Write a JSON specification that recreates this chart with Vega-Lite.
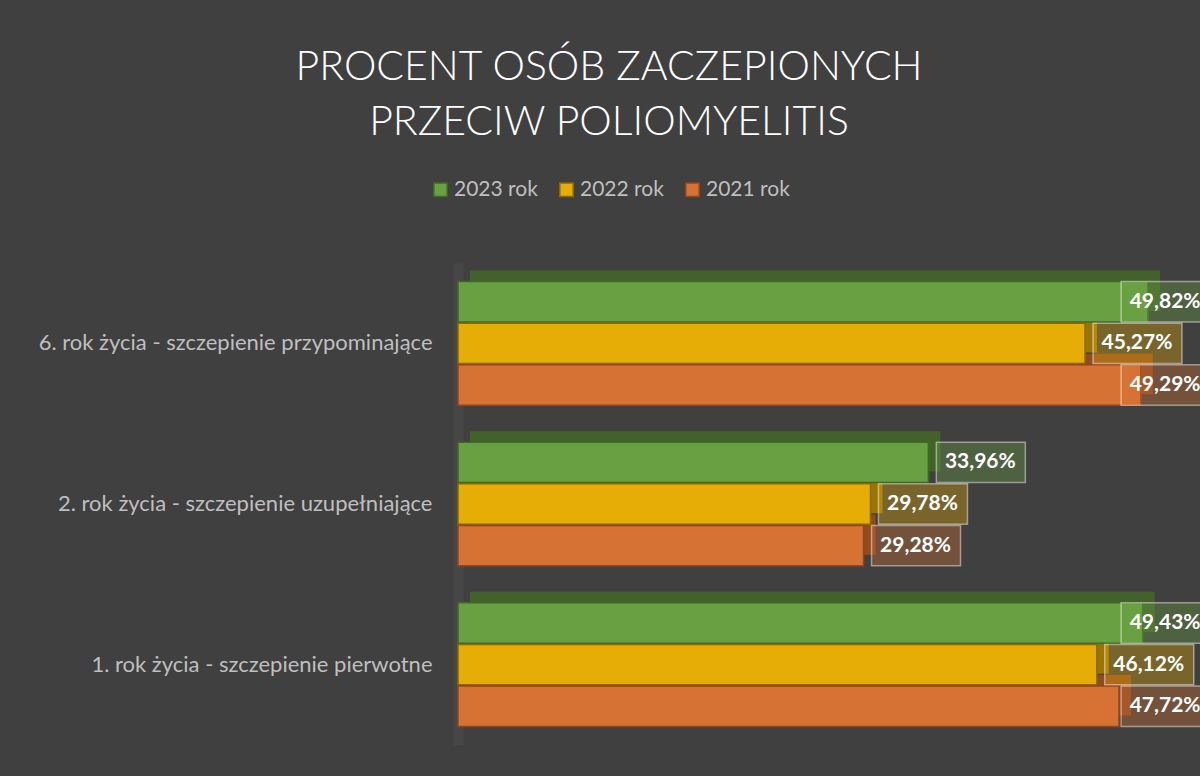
{
  "$schema": "https://vega.github.io/schema/vega-lite/v6.json",
  "width": 742,
  "height": 482,
  "autosize": {"type": "none"},
  "padding": {"left": 458, "top": 263, "right": 0, "bottom": 31},
  "background": "#404040",
  "config": {
    "view": {"stroke": null},
    "locale": {"number": {"decimal": ",", "thousands": " ", "grouping": [3], "currency": ["", " zł"]}},
    "font": "Lato"
  },
  "title": {
    "text": ["PROCENT OSÓB ZACZEPIONYCH", "PRZECIW POLIOMYELITIS"],
    "font": "Lato",
    "fontSize": 41,
    "fontWeight": 300,
    "color": "#ffffff",
    "anchor": "middle",
    "dx": -220,
    "offset": 35,
    "lineHeight": 55
  },
  "data": {
    "values": [
      {"grupa": "6. rok życia - szczepienie przypominające", "rok": "2023 rok", "value": 0.4982},
      {"grupa": "6. rok życia - szczepienie przypominające", "rok": "2022 rok", "value": 0.4527},
      {"grupa": "6. rok życia - szczepienie przypominające", "rok": "2021 rok", "value": 0.4929},
      {"grupa": "2. rok życia - szczepienie uzupełniające", "rok": "2023 rok", "value": 0.3396},
      {"grupa": "2. rok życia - szczepienie uzupełniające", "rok": "2022 rok", "value": 0.2978},
      {"grupa": "2. rok życia - szczepienie uzupełniające", "rok": "2021 rok", "value": 0.2928},
      {"grupa": "1. rok życia - szczepienie pierwotne", "rok": "2023 rok", "value": 0.4943},
      {"grupa": "1. rok życia - szczepienie pierwotne", "rok": "2022 rok", "value": 0.4612},
      {"grupa": "1. rok życia - szczepienie pierwotne", "rok": "2021 rok", "value": 0.4772}
    ]
  },
  "encoding": {
    "y": {
      "field": "grupa",
      "type": "nominal",
      "sort": ["6. rok życia - szczepienie przypominające", "2. rok życia - szczepienie uzupełniające", "1. rok życia - szczepienie pierwotne"],
      "scale": {"paddingInner": 0.23, "paddingOuter": 0.115},
      "axis": {
        "title": null,
        "ticks": false,
        "domain": true,
        "domainColor": "#474747",
        "domainWidth": 10,
        "labelColor": "#bfbfbf",
        "labelFont": "Lato",
        "labelFontSize": 22,
        "labelPadding": 26,
        "labelLimit": 460
      }
    }
  },
  "layer": [
    {
      "mark": {"type": "bar", "xOffset": 12, "x2Offset": 12, "cornerRadius": 0},
      "encoding": {
        "yOffset": {
          "field": "rok",
          "type": "nominal",
          "sort": ["2023 rok", "2022 rok", "2021 rok"],
          "scale": {"paddingInner": 0.03, "paddingOuter": 0, "range": [-11, 112.7]}
        },
        "x": {"field": "value", "type": "quantitative", "scale": {"domain": [0, 0.5357], "nice": false, "zero": true}, "axis": null},
        "color": {
          "field": "rok",
          "type": "nominal",
          "scale": {"domain": ["2023 rok", "2022 rok", "2021 rok"], "range": ["#43622b", "#9a7506", "#8f4b22"]},
          "legend": null
        }
      }
    },
    {
      "mark": {"type": "bar", "strokeWidth": 1.5},
      "encoding": {
        "yOffset": {
          "field": "rok",
          "type": "nominal",
          "sort": ["2023 rok", "2022 rok", "2021 rok"],
          "scale": {"paddingInner": 0.03, "paddingOuter": 0, "range": [0, 123.7]}
        },
        "x": {"field": "value", "type": "quantitative", "scale": {"domain": [0, 0.5357], "nice": false, "zero": true}, "axis": null},
        "fill": {
          "field": "rok",
          "type": "nominal",
          "scale": {"domain": ["2023 rok", "2022 rok", "2021 rok"], "range": ["#69a042", "#e5ad06", "#d67233"]},
          "legend": {
            "title": null,
            "orient": "none",
            "direction": "horizontal",
            "legendX": -28,
            "legendY": -84,
            "symbolType": "square",
            "symbolSize": 180,
            "symbolStrokeWidth": 1.5,
            "labelColor": "#bfbfbf",
            "labelFont": "Lato",
            "labelFontSize": 21,
            "labelOffset": 3,
            "columnPadding": 18
          }
        },
        "stroke": {
          "field": "rok",
          "type": "nominal",
          "scale": {"domain": ["2023 rok", "2022 rok", "2021 rok"], "range": ["#3f6a24", "#8a6a00", "#94451a"]},
          "legend": null
        }
      }
    },
    {
      "mark": {"type": "rect", "xOffset": 8, "x2Offset": 97, "stroke": "#ffffff", "strokeOpacity": 0.45, "strokeWidth": 1.5, "fillOpacity": 0.35},
      "encoding": {
        "yOffset": {
          "field": "rok",
          "type": "nominal",
          "sort": ["2023 rok", "2022 rok", "2021 rok"],
          "scale": {"type": "band", "paddingInner": 0.03, "paddingOuter": 0, "range": [0, 123.7]}
        },
        "x": {"field": "value", "type": "quantitative", "scale": {"domain": [0, 0.473], "range": [0, 655.1], "clamp": true, "nice": false, "zero": true}, "axis": null},
        "x2": {"field": "value"},
        "color": {
          "field": "rok",
          "type": "nominal",
          "scale": {"domain": ["2023 rok", "2022 rok", "2021 rok"], "range": ["#69a042", "#e5ad06", "#d67233"]},
          "legend": null
        }
      }
    },
    {
      "mark": {"type": "text", "xOffset": 52, "align": "center", "baseline": "middle", "color": "#ffffff", "font": "Lato", "fontWeight": "bold", "fontSize": 21},
      "encoding": {
        "yOffset": {
          "field": "rok",
          "type": "nominal",
          "sort": ["2023 rok", "2022 rok", "2021 rok"],
          "scale": {"type": "band", "paddingInner": 0.03, "paddingOuter": 0, "range": [0, 123.7]}
        },
        "x": {"field": "value", "type": "quantitative", "scale": {"domain": [0, 0.473], "range": [0, 655.1], "clamp": true, "nice": false, "zero": true}, "axis": null},
        "text": {"field": "value", "type": "quantitative", "format": ".2%"}
      }
    }
  ],
  "resolve": {"scale": {"x": "independent", "color": "independent", "yOffset": "independent"}}
}
